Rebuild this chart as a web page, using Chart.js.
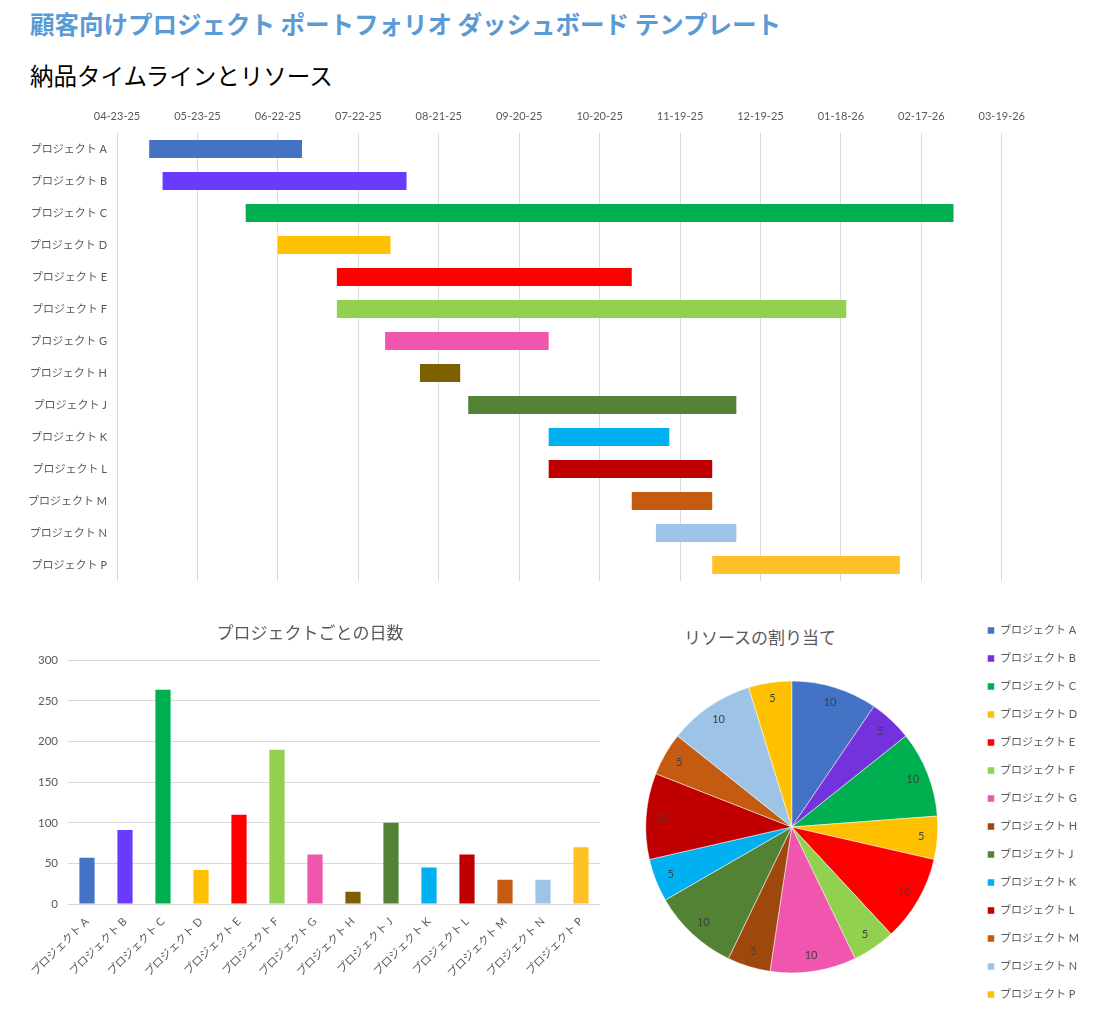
<!DOCTYPE html>
<html lang="ja">
<head>
<meta charset="utf-8">
<script src="https://cdn.jsdelivr.net/npm/chart.js@4.4.1/dist/chart.umd.min.js"></script>
<style>
  html, body { margin: 0; padding: 0; background: #fff; overflow: hidden; width: 1109px; height: 1009px; }
  .abs { position: absolute; }
  #title { left: 30px; top: 9px; font: bold 24.5px 'Noto Sans CJK JP', sans-serif; line-height: 30px; color: #5B9BD5; white-space: nowrap; }
  #subtitle { left: 30px; top: 60px; font: 23.5px 'Noto Sans CJK JP', sans-serif; line-height: 30px; color: #000; white-space: nowrap; }
  #pieTitle { left: 660px; top: 625px; width: 200px; text-align: center; font: 17px 'Noto Sans CJK JP', sans-serif; line-height: 24px; color: #595959; }
</style>
</head>
<body>
<div id="title" class="abs">顧客向けプロジェクト ポートフォリオ ダッシュボード テンプレート</div>
<div id="subtitle" class="abs">納品タイムラインとリソース</div>
<div class="abs" style="left:20px; top:100px; width:1015px; height:490px;"><canvas id="gantt"></canvas></div>
<div class="abs" style="left:20px; top:615px; width:590px; height:380px;"><canvas id="days"></canvas></div>
<div id="pieTitle" class="abs">リソースの割り当て</div>
<div class="abs" style="left:613px; top:608px; width:476px; height:438px;"><canvas id="pie"></canvas></div>

<script>
const projects = ['プロジェクト A', 'プロジェクト B', 'プロジェクト C', 'プロジェクト D', 'プロジェクト E', 'プロジェクト F', 'プロジェクト G',
                  'プロジェクト H', 'プロジェクト J', 'プロジェクト K', 'プロジェクト L', 'プロジェクト M', 'プロジェクト N', 'プロジェクト P'];
const startDates = ['2025-05-05', '2025-05-10', '2025-06-10', '2025-06-22', '2025-07-14', '2025-07-14', '2025-08-01',
                    '2025-08-14', '2025-09-01', '2025-10-01', '2025-10-01', '2025-11-01', '2025-11-10', '2025-12-01'];
const durations = [57, 91, 264, 42, 110, 190, 61, 15, 100, 45, 61, 30, 30, 70];
const resources = [10, 5, 10, 5, 10, 5, 10, 5, 10, 5, 10, 5, 10, 5];

const axisStart = '2025-04-23';
const axisDays = 330;
const tickDays = 30;

const barColors = ['#4472C4', '#6A3BFF', '#00B050', '#FFC000', '#FF0000', '#92D050', '#F056AE',
                   '#7F6000', '#548235', '#00B0F0', '#C00000', '#C55A11', '#9DC3E6', '#FFC125'];
const pieColors = ['#4472C4', '#7332DC', '#00B050', '#FFC000', '#FF0000', '#92D050', '#F056AE',
                   '#9E480E', '#548235', '#00B0F0', '#C00000', '#C55A11', '#9DC3E6', '#FFC000'];

const FONT = "Lato, 'Noto Sans CJK JP', sans-serif";
const GREY = '#595959';
const GRID = '#d9d9d9';

function dayOf(s) {
    const p = s.split('-').map(Number);
    const a = axisStart.split('-').map(Number);
    return (Date.UTC(p[0], p[1] - 1, p[2]) - Date.UTC(a[0], a[1] - 1, a[2])) / 86400000;
}

function dateLabel(d) {
    const a = axisStart.split('-').map(Number);
    const t = new Date(Date.UTC(a[0], a[1] - 1, a[2]) + d * 86400000);
    const mm = String(t.getUTCMonth() + 1).padStart(2, '0');
    const dd = String(t.getUTCDate()).padStart(2, '0');
    const yy = String(t.getUTCFullYear()).slice(2);
    return mm + '-' + dd + '-' + yy;
}

Chart.defaults.font.family = FONT;
Chart.defaults.color = GREY;
Chart.defaults.animation = false;

// timeline
const spans = startDates.map((s, i) => [dayOf(s), dayOf(s) + durations[i]]);

new Chart(document.getElementById('gantt'), {
    type: 'bar',
    data: {
        labels: projects,
        datasets: [{
            data: spans,
            backgroundColor: barColors,
            borderWidth: 0,
            barPercentage: 0.56,
            categoryPercentage: 1
        }]
    },
    options: {
        indexAxis: 'y',
        responsive: true,
        maintainAspectRatio: false,
        layout: { padding: { bottom: 9 } },
        scales: {
            x: {
                position: 'top',
                min: 0,
                max: axisDays,
                afterFit: s => { s.height = 33; },
                grid: { color: GRID, drawTicks: false },
                border: { display: false },
                ticks: {
                    stepSize: tickDays,
                    padding: 10,
                    font: { size: 11 },
                    color: GREY,
                    callback: v => dateLabel(v)
                }
            },
            y: {
                afterFit: s => { s.width = 97; s.paddingTop = 0; s.paddingBottom = 0; },
                grid: { display: false, drawTicks: false },
                border: { display: false },
                ticks: { padding: 10, font: { size: 11 }, color: GREY }
            }
        },
        plugins: { legend: { display: false }, tooltip: { enabled: false } }
    }
});

// days per project
new Chart(document.getElementById('days'), {
    type: 'bar',
    data: {
        labels: projects,
        datasets: [{
            data: durations,
            backgroundColor: barColors,
            borderWidth: 0,
            barPercentage: 0.4,
            categoryPercentage: 1
        }]
    },
    options: {
        responsive: true,
        maintainAspectRatio: false,
        layout: { padding: { right: 10 } },
        scales: {
            x: {
                afterFit: s => { s.height = 91; },
                grid: { display: false },
                border: { display: false },
                ticks: { minRotation: 45, maxRotation: 45, font: { size: 11 }, color: GREY }
            },
            y: {
                min: 0,
                max: 300,
                afterFit: s => { s.width = 48; },
                grid: { color: GRID, drawTicks: false },
                border: { display: false },
                ticks: { stepSize: 50, padding: 10, font: { size: 11.5 }, color: GREY }
            }
        },
        plugins: {
            legend: { display: false },
            tooltip: { enabled: false },
            title: {
                display: true,
                text: 'プロジェクトごとの日数',
                color: GREY,
                font: { size: 17, weight: 'normal' },
                padding: { top: 8, bottom: 17 }
            }
        }
    }
});

// resource allocation
const sliceLabels = {
    id: 'sliceLabels',
    afterDatasetsDraw(chart) {
        const ctx = chart.ctx;
        const meta = chart.getDatasetMeta(0);
        ctx.save();
        ctx.font = '11px ' + FONT;
        ctx.fillStyle = '#404040';
        ctx.textAlign = 'center';
        ctx.textBaseline = 'middle';
        meta.data.forEach((arc, i) => {
            const p = arc.getProps(['x', 'y', 'startAngle', 'endAngle', 'outerRadius'], true);
            const a = (p.startAngle + p.endAngle) / 2;
            const r = p.outerRadius * 0.89;
            ctx.fillText(String(chart.data.datasets[0].data[i]), p.x + Math.cos(a) * r, p.y + Math.sin(a) * r);
        });
        ctx.restore();
    }
};

new Chart(document.getElementById('pie'), {
    type: 'pie',
    data: {
        labels: projects,
        datasets: [{
            data: resources,
            backgroundColor: pieColors,
            borderColor: '#ffffff',
            borderWidth: 0.5
        }]
    },
    options: {
        responsive: true,
        maintainAspectRatio: false,
        radius: 146,
        plugins: {
            tooltip: { enabled: false },
            legend: {
                position: 'right',
                align: 'start',
                labels: {
                    boxWidth: 7,
                    boxHeight: 7,
                    padding: 17,
                    color: GREY,
                    font: { size: 11 }
                }
            }
        }
    },
    plugins: [sliceLabels]
});
</script>
</body>
</html>
